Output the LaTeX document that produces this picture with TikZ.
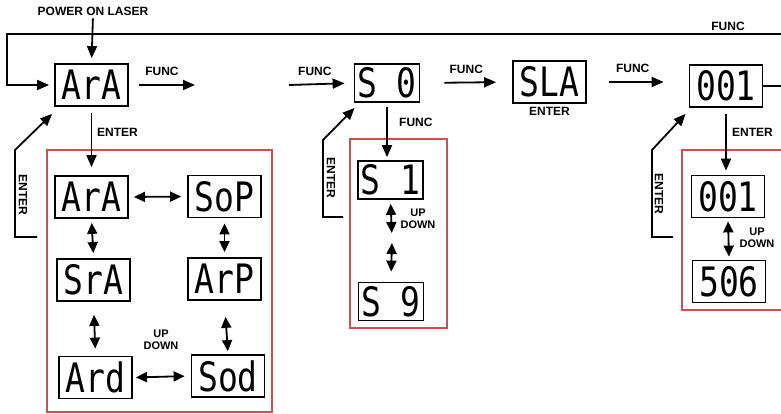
\documentclass[tikz,border=0pt]{standalone}
\usepackage{fontspec}
\setmainfont{Liberation Sans}
\newfontfamily\segfont{DejaVu Sans Mono}
\usetikzlibrary{arrows.meta,calc}

\definecolor{frame}{RGB}{196,84,84}

\begin{document}
\begin{tikzpicture}[x=1pt, y=-1pt]
\tikzset{disp/.style={rectangle, draw=black, line width=1.8pt, minimum width=73pt, minimum height=42pt, inner sep=0pt}}
\tikzset{dispS/.style={disp, minimum width=65pt, minimum height=38pt}}
\tikzset{lbl/.style={font=\fontsize{12}{13}\selectfont\bfseries, inner sep=0pt}}
\tikzset{updn/.style={lbl, align=center, font=\fontsize{11}{12.5}\selectfont\bfseries}}
\tikzset{arr/.style={-{Triangle[length=12pt, width=10pt]}, line width=1.8pt}}
\tikzset{dbl/.style={{Triangle[length=11pt, width=10pt]}-{Triangle[length=11pt, width=10pt]}, line width=1.8pt}}
\tikzset{frm/.style={draw=frame, line width=1.6pt}}
\newcommand{\segtxt}[1]{\scalebox{1.1}[1.35]{\segfont\fontsize{30}{30}\selectfont #1}}

\useasboundingbox (0,0) rectangle (781,414);
\clip (0,0) rectangle (781,414);

% red frames
\draw[frm] (47,150) rectangle (272,412);
\draw[frm] (350,139) rectangle (447,328);
\draw[frm] (682,150) rectangle (800,310);

% displays
\node[disp] (ara) at (91.5,85) {\segtxt{ArA}};
\node[dispS] (s0) at (387,83) {\segtxt{S 0}};
\node[disp] (sla) at (549.5,82) {\segtxt{SLA}};
\node[disp] (top001) at (726,86) {\segtxt{001}};

\node[disp] (ara2) at (91.5,197) {\segtxt{ArA}};
\node[disp] (sop) at (224.5,196.5) {\segtxt{SoP}};
\node[disp] (sra) at (93.5,280) {\segtxt{SrA}};
\node[disp] (arp) at (224.5,279) {\segtxt{ArP}};
\node[disp] (ard) at (95.5,377.5) {\segtxt{Ard}};
\node[disp] (sod) at (228,376) {\segtxt{Sod}};

\node[dispS] (s1) at (390.5,180) {\segtxt{S 1}};
\node[dispS] (s9) at (391,301.5) {\segtxt{S 9}};

\node[disp] (in001) at (728,196.5) {\segtxt{001}};
\node[disp] (s506) at (729,281.5) {\segtxt{506}};

% labels
\node[lbl] (power) at (93,11) {POWER ON LASER};
\node[lbl] (funcTop) at (728,26) {FUNC};
\node[lbl, anchor=west] (enterA) at (97,132) {ENTER};
\node[lbl, anchor=west] (funcS) at (399,122) {FUNC};
\node[lbl, anchor=west] (enterR) at (732,132) {ENTER};
\node[lbl] (enterSla) at (549.5,111) {ENTER};
\node[lbl, rotate=-90] (retLblA) at (23,195) {ENTER};
\node[lbl, rotate=-90] (retLblS) at (331,178) {ENTER};
\node[lbl, rotate=-90] (retLblR) at (659,194) {ENTER};
\node[updn] (updA) at (161,340) {UP\\DOWN};
\node[updn] (updS) at (418,219) {UP\\DOWN};
\node[updn] (updR) at (757,238) {UP\\DOWN};

% main line
\coordinate (loopR) at (801,34);
\coordinate (loopL) at (7,34);
\coordinate (out001) at (801,86);
\coordinate (f1end) at (195,85);
\coordinate (f2start) at (289,85);
\draw[arr, shorten <=3pt, shorten >=5pt] (power.south) -- (ara.north);
\draw[arr, shorten >=5pt] (loopR) -- (loopL) |- (ara.west);
\draw[line width=1.8pt] (top001.east) -- (out001);
\draw[arr, shorten <=10pt] (ara.east) -- (f1end) node[lbl, midway, above=8pt] {FUNC};
\draw[arr, shorten >=9pt] (f2start) -- (s0.west) node[lbl, pos=0.4, above=8pt] {FUNC};
\draw[arr, shorten <=24pt, shorten >=16pt] (s0.east) -- (sla.west) node[lbl, midway, above=8pt] {FUNC};
\draw[arr, shorten <=22pt, shorten >=25pt] (sla.east) -- (sla.east -| top001.west) node[lbl, pos=0.45, above=8pt] {FUNC};

% enter / func down
\draw[arr, shorten <=6pt, shorten >=8pt] (ara.south) -- (ara2.north);
\draw[arr, shorten <=4pt, shorten >=3pt] (s0.south) -- (s0.south |- s1.north);
\draw[arr, shorten <=6pt, shorten >=4pt] (top001.south) -- (top001.south |- in001.north);

% back to the top
\coordinate (retA) at (37,237);
\coordinate (retS) at (343,217);
\coordinate (retR) at (673,237);
\draw[arr] (retA) -- (15,237) -- (15,150) -- ([xshift=-2pt, yshift=-7pt]ara.south west);
\draw[arr] (retS) -- (323,217) -- (323,140) -- ([xshift=1pt, yshift=-5pt]s0.south west);
\draw[arr] (retR) -- (652,237) -- (652,150) -- ([xshift=-3pt, yshift=-6pt]top001.south west);

% up / down
\draw[dbl, shorten <=5pt, shorten >=6pt] (ara2.east) -- (sop.west);
\draw[dbl, shorten <=4pt, shorten >=5pt] (ara2.south) -- (sra.north);
\draw[dbl, shorten <=5pt, shorten >=5pt] (sop.south) -- (arp.north);
\draw[dbl, shorten <=13pt, shorten >=7pt] (sra.south) -- (ard.north);
\draw[dbl, shorten <=16pt, shorten >=3pt] (arp.south) -- (sod.north);
\draw[dbl, shorten <=3pt, shorten >=6pt] (ard.east) -- (sod.west);

\coordinate (midS) at (392,238);
\draw[dbl, shorten <=4pt, shorten >=5pt] (s1.south) -- (midS);
\draw[dbl, shorten <=5pt, shorten >=10pt] (midS) -- (s9.north);
\draw[dbl, shorten <=3pt, shorten >=3pt] (in001.south) -- (s506.north);
\end{tikzpicture}
\end{document}
